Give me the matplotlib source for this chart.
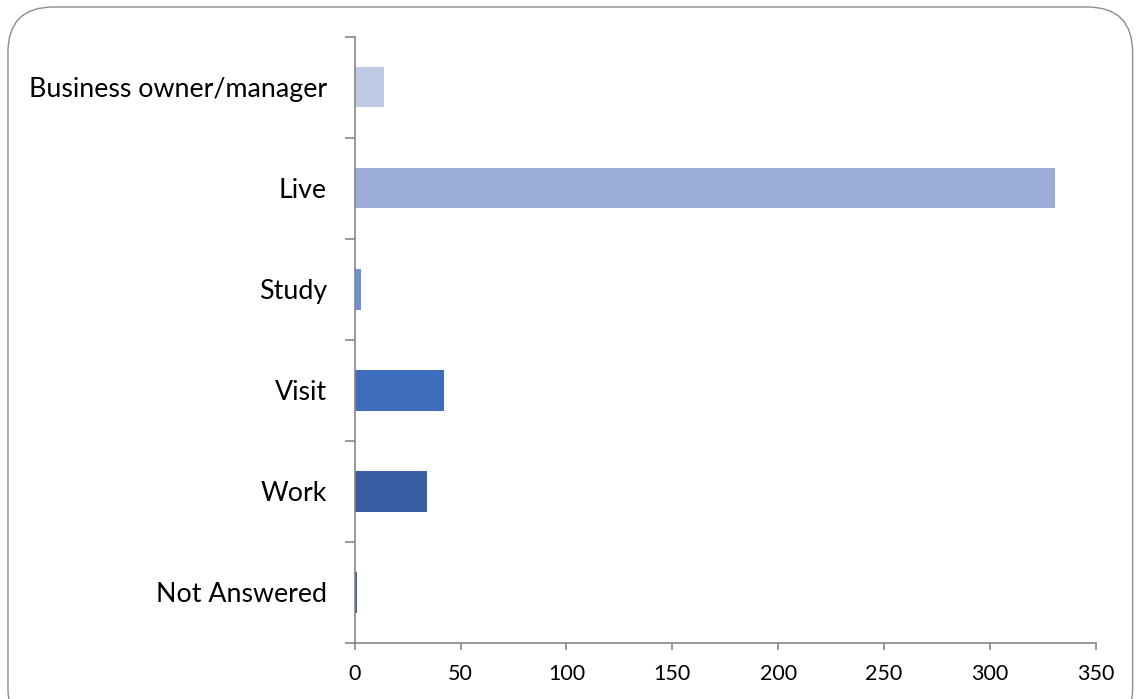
import matplotlib
matplotlib.use("Agg")
import matplotlib.pyplot as plt
from matplotlib.patches import FancyBboxPatch
import numpy as np

categories = ["Business owner/manager", "Live", "Study", "Visit", "Work", "Not Answered"]
values = [14, 331, 3, 42, 34, 1]
colors = ["#BFCAE5", "#9DAED8", "#6F8FD6", "#3F6DBD", "#395DA3", "#3A5A9C"]
xticks = [0, 50, 100, 150, 200, 250, 300, 350]

plt.rcParams['font.family'] = ['Lato', 'DejaVu Sans']

fig = plt.figure(figsize=(11.36, 6.99), dpi=100)
border = FancyBboxPatch((0.007, -0.05), 0.99, 1.04, boxstyle="round,pad=0,rounding_size=0.04",
                        transform=fig.transFigure, facecolor="none", edgecolor="#8C8C8C",
                        linewidth=1.0, mutation_aspect=1136/699, zorder=-10)
fig.patches.append(border)

ax = fig.add_axes([0.3122, 0.0801, 0.6523, 0.8674])
ax.set_facecolor("none")
y = np.arange(len(categories))
ax.barh(y, values, height=0.4, color=colors)
ax.set_ylim(len(categories) - 0.5, -0.5)
ax.set_xlim(0, 350)
ax.set_xticks(xticks)
ax.set_xticklabels([str(t) for t in xticks], fontsize=15.5)
ax.set_yticks(y)
ax.set_yticklabels(categories, fontsize=19.3)
ax.tick_params(axis='y', length=0, pad=20)
ax.set_yticks(np.arange(-0.5, len(categories), 1), minor=True)
ax.tick_params(axis='y', which='minor', length=7, color="#868686", width=1.2, direction='out')
ax.tick_params(axis='x', length=5, color="#868686", width=1.2, direction='out', pad=10)
for s in ['top', 'right']:
    ax.spines[s].set_visible(False)
for s in ['left', 'bottom']:
    ax.spines[s].set_color("#868686")
    ax.spines[s].set_linewidth(1.2)

fig.savefig("out.png", dpi=100)
